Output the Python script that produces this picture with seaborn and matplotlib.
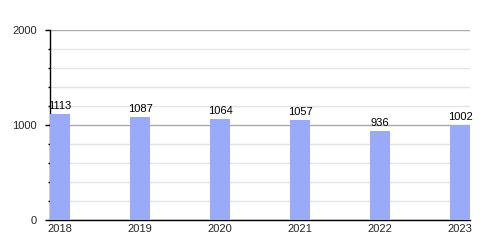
import matplotlib
matplotlib.use("Agg")
import matplotlib.pyplot as plt
import seaborn as sns
import pandas as pd
from matplotlib.ticker import MultipleLocator

years = ["2018", "2019", "2020", "2021", "2022", "2023"]
values = [1113, 1087, 1064, 1057, 936, 1002]

df = pd.DataFrame({"year": years, "value": values})

sns.set_theme(style="white")
plt.rcParams["font.family"] = ["Liberation Sans", "DejaVu Sans"]

fig = plt.figure(figsize=(5, 2.5), dpi=100)
ax = fig.add_axes([0.1, 0.12, 0.84, 0.76])

sns.barplot(data=df, x="year", y="value", color="#99aaf8", saturation=1,
            width=0.25, ax=ax, zorder=3, edgecolor="none", linewidth=0)

ax.set_xlim(-0.125, 5.125)
ax.set_ylim(0, 2000)
ax.yaxis.set_major_locator(MultipleLocator(1000))
ax.yaxis.set_minor_locator(MultipleLocator(200))
ax.grid(which="major", axis="y", color="#aaaaaa", linewidth=1, zorder=0)
ax.grid(which="minor", axis="y", color="#e4e4e4", linewidth=1, zorder=0)
ax.set_axisbelow(True)

for s in ["top", "right"]:
    ax.spines[s].set_visible(False)
for s in ["left", "bottom"]:
    ax.spines[s].set_color("black")
    ax.spines[s].set_linewidth(1)

ax.tick_params(axis="y", which="major", length=3.6, width=1, color="black",
               labelsize=8, pad=6, left=True)
ax.tick_params(axis="y", which="minor", length=1.8, width=1, color="black", left=True)
ax.tick_params(axis="x", length=0, labelsize=8, pad=3)
ax.set_xlabel("")
ax.set_ylabel("")

ax.bar_label(ax.containers[0], labels=[str(v) for v in values],
             padding=2, fontsize=8, color="black")

fig.savefig("out.png", dpi=100)
